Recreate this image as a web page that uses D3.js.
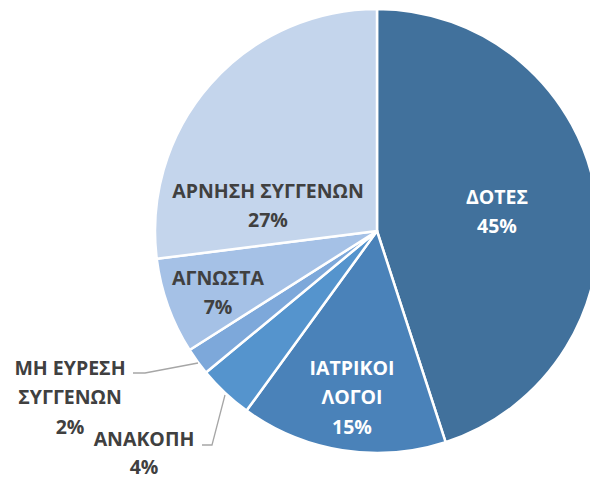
<!DOCTYPE html>
<html>
<head>
<meta charset="utf-8">
<script src="https://cdnjs.cloudflare.com/ajax/libs/d3/7.8.5/d3.min.js"></script>
<style>
  body { margin: 0; background: #fff; }
  svg { display: block; }
  .lbl { font-family: "Open Sans", sans-serif; font-weight: bold; font-size: 19.5px; }
</style>
</head>
<body>
<svg id="canvas" width="590" height="481"></svg>
<script>
// slice data, clockwise from 12 o'clock
let categories = [["ΔΟΤΕΣ"], ["ΙΑΤΡΙΚΟΙ", "ΛΟΓΟΙ"], ["ΑΝΑΚΟΠΗ"], ["ΜΗ ΕΥΡΕΣΗ", "ΣΥΓΓΕΝΩΝ"], ["ΑΓΝΩΣΤΑ"], ["ΑΡΝΗΣΗ ΣΥΓΓΕΝΩΝ"]]
let values = [45, 15, 4, 2, 7, 27]
let colors = ["#41719c", "#4a82b9", "#5594cd", "#7da8da", "#a5c1e6", "#c4d5ec"]
let textColors = ["#ffffff", "#ffffff", "#404040", "#404040", "#404040", "#404040"]

// label layout (offset from pie centre, first line y) and leader lines for the small ones
let labelPos = [[120, -34], [-25, 137], [-233, 208], [-307, 137], [-159, 47], [-109, -40]]
let leaders = [null, null, [[-175, 214], [-165, 214], [-152, 164]], [[-244, 142], [-232, 142], [-179, 132]], null, null]

let canvas = d3.select("#canvas")
let cx = 377, cy = 231, radius = 222
let lineH = 29.5

let g = canvas.append("g").attr("transform", "translate(" + cx + "," + cy + ")")

let pie = d3.pie().value(d => d).sort(null)
let arc = d3.arc().innerRadius(0).outerRadius(radius)
let slices = pie(values)

g.selectAll("path.slice")
  .data(slices)
  .enter()
  .append("path")
  .attr("class", "slice")
  .attr("d", arc)
  .attr("fill", (d, i) => colors[i])
  .attr("stroke", "#fff")
  .attr("stroke-width", 2.5)
  .attr("stroke-linejoin", "round")

// leader lines
g.selectAll("polyline")
  .data(leaders.filter(l => l))
  .enter()
  .append("polyline")
  .attr("points", l => l.map(p => p.join(",")).join(" "))
  .attr("fill", "none")
  .attr("stroke", "#a6a6a6")
  .attr("stroke-width", 1.3)

slices.forEach((s, i) => {
  let lines = categories[i].concat([values[i] + "%"])
  let lh = i == 2 ? 28.5 : lineH
  let t = g.append("text")
    .attr("class", "lbl")
    .attr("text-anchor", "middle")
    .attr("fill", textColors[i])
  lines.forEach((ln, j) => {
    t.append("tspan")
      .attr("x", labelPos[i][0])
      .attr("y", labelPos[i][1] + j * lh)
      .attr("dy", "0.35em")
      .text(ln)
  })
})
</script>
</body>
</html>
